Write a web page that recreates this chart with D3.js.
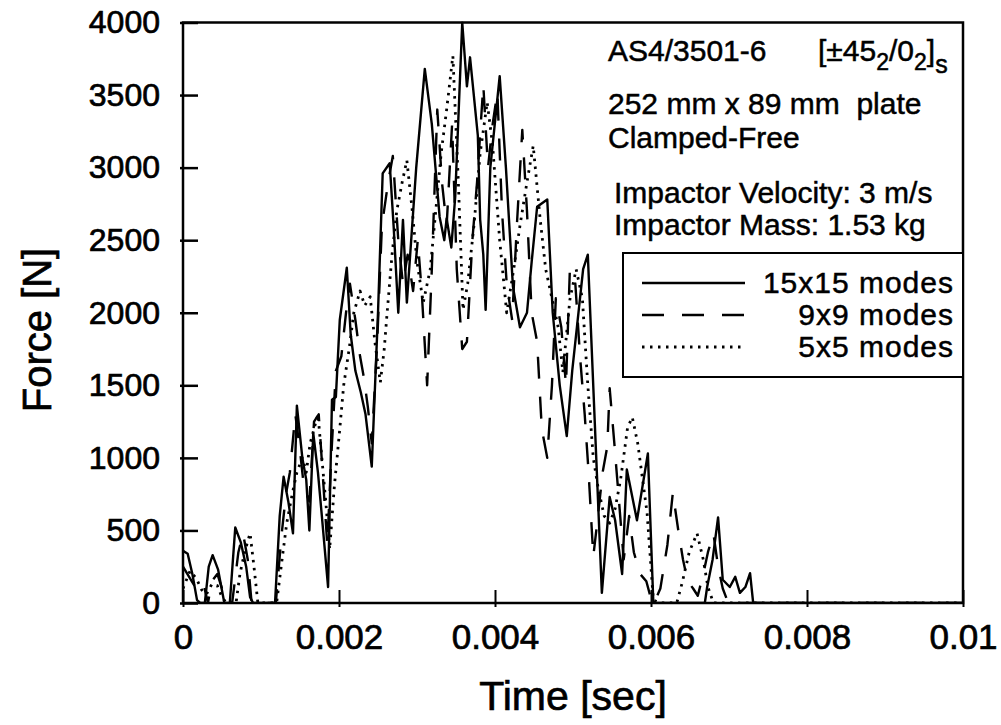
<!DOCTYPE html>
<html>
<head>
<meta charset="utf-8">
<script src="https://cdn.jsdelivr.net/npm/d3@7"></script>
<style>
  html, body { margin: 0; padding: 0; background: #ffffff; }
  svg { display: block; }
  text { white-space: pre; }
</style>
</head>
<body>
<svg id="chart"></svg>
<script>
// Impact force histories (time in s, force in N)
const solid15 = [
  [0, 360], [0.00006, 340], [0.00012, 200], [0.00018, 20], [0.00022, 0], [0.00028, 0],
  [0.00033, 250], [0.00038, 330], [0.00045, 230], [0.00053, 0], [0.0006, 0],
  [0.00067, 520], [0.00074, 420], [0.00081, 250], [0.00086, 40], [0.0009, 0], [0.00118, 0],
  [0.00124, 600], [0.00129, 870], [0.00135, 700], [0.00141, 480], [0.00146, 1360],
  [0.00153, 1000], [0.00158, 850], [0.00162, 500], [0.00167, 1170], [0.00173, 900],
  [0.00178, 600], [0.00186, 110], [0.00191, 1400], [0.00196, 1420], [0.00201, 1950],
  [0.0021, 2310], [0.00215, 1850], [0.00221, 1600], [0.00228, 1450], [0.00234, 1300],
  [0.00242, 940], [0.0025, 2000], [0.00256, 2960], [0.00265, 3030], [0.0027, 2600],
  [0.00276, 2000], [0.00282, 2640], [0.00287, 2070], [0.00299, 3000], [0.0031, 3680],
  [0.00319, 3300], [0.00329, 2660], [0.00335, 2500], [0.00338, 2650], [0.00344, 2450],
  [0.00349, 2800], [0.00358, 4000], [0.00364, 3560], [0.00368, 3760], [0.00378, 3220],
  [0.00381, 2640], [0.00385, 2400], [0.00388, 2020], [0.00394, 3000], [0.00406, 3630],
  [0.00414, 3000], [0.00423, 2180], [0.00432, 1900], [0.00441, 2000], [0.00447, 2350],
  [0.00454, 2730], [0.00467, 2780], [0.00474, 2000], [0.00483, 1500], [0.00492, 1150],
  [0.00499, 1600], [0.00505, 1900], [0.00513, 2300], [0.00519, 2400], [0.00537, 70],
  [0.00547, 730], [0.00554, 570], [0.00563, 200], [0.00569, 920], [0.00582, 570],
  [0.00596, 1030], [0.00603, 0], [0.00669, 0], [0.00672, 110], [0.00679, 300],
  [0.00686, 590], [0.00692, 160], [0.00701, 110], [0.00708, 180], [0.00714, 70],
  [0.00721, 110], [0.00727, 205], [0.00731, 0], [0.01, 0]
];

const dashed9 = [
  [0, 250], [0.00009, 170], [0.00017, 100], [0.00026, 140], [0.00032, 0], [0.00037, 150],
  [0.00044, 200], [0.0005, 100], [0.00055, 0], [0.00063, 0], [0.00071, 350], [0.00077, 480],
  [0.00083, 300], [0.00088, 0], [0.00119, 0], [0.00126, 450], [0.00132, 750], [0.00137, 900],
  [0.00144, 1300], [0.0015, 1050], [0.00155, 800], [0.00162, 700], [0.00168, 1250],
  [0.00174, 1300], [0.00179, 900], [0.00185, 400], [0.0019, 1000], [0.00196, 1600],
  [0.00203, 1700], [0.00209, 2000], [0.00214, 2200], [0.00221, 1950], [0.00227, 1700],
  [0.00232, 1550], [0.00237, 1350], [0.00242, 1100], [0.00249, 1800], [0.00255, 2600],
  [0.00263, 2900], [0.00269, 3080], [0.00276, 2500], [0.00282, 2200], [0.00288, 2400],
  [0.00295, 2150], [0.00301, 2500], [0.00306, 2150], [0.00313, 1500], [0.00319, 2300],
  [0.00326, 3400], [0.00332, 2900], [0.00338, 2600], [0.00345, 3300], [0.00351, 2300],
  [0.00358, 1750], [0.00364, 1800], [0.00371, 2500], [0.00377, 2900], [0.00385, 3570],
  [0.00391, 3000], [0.00397, 3300], [0.00403, 3520], [0.00409, 2700], [0.00415, 2200],
  [0.00422, 1950], [0.00428, 2600], [0.00435, 3260], [0.00441, 2700], [0.00447, 2000],
  [0.00454, 1800], [0.0046, 1200], [0.00467, 1000], [0.00473, 1500], [0.00478, 2100],
  [0.00485, 1900], [0.00491, 1500], [0.00496, 2300], [0.00503, 2200], [0.00509, 1700],
  [0.00515, 1300], [0.0052, 900], [0.00526, 320], [0.00532, 600], [0.00538, 900],
  [0.00544, 1080], [0.00547, 1480], [0.00553, 1100], [0.00559, 700], [0.00565, 300],
  [0.00572, 600], [0.00578, 350], [0.00586, 200], [0.00594, 150], [0.00599, 50],
  [0.00604, 0], [0.00612, 100], [0.00621, 400], [0.00628, 760], [0.00635, 500],
  [0.00641, 300], [0.00647, 150], [0.00654, 100], [0.0066, 50], [0.00667, 200],
  [0.00673, 350], [0.0068, 480], [0.00686, 250], [0.00692, 100], [0.00699, 0], [0.01, 0]
];

const dotted5 = [
  [0, 100], [0.00009, 220], [0.00017, 170], [0.00024, 90], [0.0003, 60], [0.00037, 130],
  [0.00044, 120], [0.0005, 40], [0.00056, 0], [0.00068, 0], [0.00073, 200], [0.00079, 350],
  [0.00086, 480], [0.00091, 250], [0.00096, 0], [0.0012, 0], [0.00127, 300], [0.00133, 550],
  [0.0014, 750], [0.00146, 900], [0.00153, 1000], [0.00158, 900], [0.00163, 1100],
  [0.00168, 1200], [0.00173, 1300], [0.00178, 1000], [0.00183, 700], [0.00188, 370],
  [0.00194, 800], [0.00201, 1200], [0.00206, 1500], [0.00213, 1750], [0.00219, 2000],
  [0.00227, 2150], [0.00233, 2050], [0.0024, 2110], [0.00246, 1800], [0.00253, 1520],
  [0.00258, 1750], [0.00262, 2020], [0.00268, 2400], [0.00274, 2700], [0.00281, 2900],
  [0.00287, 3050], [0.00294, 2700], [0.003, 2350], [0.00308, 2070], [0.00317, 2300],
  [0.00324, 2700], [0.00331, 3100], [0.00338, 3400], [0.00346, 3770], [0.00353, 2900],
  [0.00359, 2020], [0.00365, 2200], [0.00373, 2600], [0.00381, 3100], [0.0039, 3450],
  [0.00397, 3150], [0.00406, 2500], [0.00415, 2000], [0.00424, 2300], [0.00432, 2600],
  [0.00441, 2900], [0.00449, 3150], [0.00458, 2640], [0.00465, 2300], [0.00473, 2100],
  [0.00481, 1900], [0.00487, 1590], [0.00496, 2090], [0.00504, 2300], [0.00512, 2100],
  [0.00519, 1500], [0.00526, 1000], [0.00532, 800], [0.0054, 600], [0.00547, 550],
  [0.00554, 650], [0.00561, 850], [0.0057, 1210], [0.00576, 1280], [0.00583, 1100],
  [0.00588, 900], [0.00595, 620], [0.00603, 20], [0.00612, 0], [0.00633, 0], [0.0064, 140],
  [0.00649, 350], [0.00659, 480], [0.00667, 300], [0.00673, 110], [0.0068, 0], [0.01, 0]
];

const xTickValues = [0, 0.002, 0.004, 0.006, 0.008, 0.01];
const xTickLabels = ['0', '0.002', '0.004', '0.006', '0.008', '0.01'];
const yTickValues = [0, 500, 1000, 1500, 2000, 2500, 3000, 3500, 4000];

const seriesNames = ['15x15 modes', '9x9 modes', '5x5 modes'];
const seriesDash = [null, '22,18', '2.5,5.5'];
const seriesWidth = [2.4, 2.4, 2.8];

const WIDTH = 1001;
const HEIGHT = 725;
const LEFT = 183;
const RIGHT = 963;
const TOP = 22.5;
const BOTTOM = 603;
const FONT = '"Liberation Sans", Arial, Helvetica, sans-serif';
const INK = 0.7; // scanned print looks a bit heavier than plain Arial

const svg = d3.select('#chart')
  .attr('width', WIDTH)
  .attr('height', HEIGHT)
  .attr('viewBox', `0 0 ${WIDTH} ${HEIGHT}`);

svg.append('rect')
  .attr('width', WIDTH)
  .attr('height', HEIGHT)
  .attr('fill', '#ffffff');

const x = d3.scaleLinear().domain([0, 0.01]).range([LEFT, RIGHT]);
const y = d3.scaleLinear().domain([0, 4000]).range([BOTTOM, TOP]);

svg.append('clipPath')
  .attr('id', 'plot-clip')
  .append('rect')
  .attr('x', LEFT)
  .attr('y', TOP - 1)
  .attr('width', RIGHT - LEFT)
  .attr('height', BOTTOM - TOP + 1);

// curves
const line = d3.line()
  .x((d) => x(d[0]))
  .y((d) => y(d[1]));

const plot = svg.append('g').attr('clip-path', 'url(#plot-clip)');

[solid15, dashed9, dotted5].forEach((series, i) => {
  plot.append('path')
    .datum(series)
    .attr('d', line)
    .attr('fill', 'none')
    .attr('stroke', '#000000')
    .attr('stroke-width', seriesWidth[i])
    .attr('stroke-linejoin', 'round')
    .attr('stroke-dasharray', seriesDash[i]);
});

// axes
const xAxis = svg.append('g')
  .attr('transform', `translate(0, ${BOTTOM})`)
  .call(d3.axisBottom(x)
    .tickValues(xTickValues)
    .tickFormat((d, i) => xTickLabels[i])
    .tickSizeOuter(0)
    .tickPadding(15));

xAxis.select('.domain').remove();
xAxis.selectAll('.tick line')
  .attr('y1', 4)
  .attr('y2', -13)
  .attr('stroke', '#000000')
  .attr('stroke-width', 2);
xAxis.selectAll('.tick text')
  .attr('font-family', FONT)
  .attr('font-size', 35)
  .attr('fill', '#000000')
  .attr('stroke', '#000000')
  .attr('stroke-width', INK);

const yAxis = svg.append('g')
  .attr('transform', `translate(${LEFT}, 0)`)
  .call(d3.axisLeft(y)
    .tickValues(yTickValues)
    .tickFormat(d3.format('d'))
    .tickSizeOuter(0)
    .tickPadding(17));

yAxis.select('.domain').remove();
yAxis.selectAll('.tick line')
  .attr('x1', -3)
  .attr('x2', 15)
  .attr('stroke', '#000000')
  .attr('stroke-width', 2.5);
yAxis.selectAll('.tick text')
  .attr('font-family', FONT)
  .attr('font-size', 32)
  .attr('fill', '#000000')
  .attr('stroke', '#000000')
  .attr('stroke-width', INK);

// frame
svg.append('rect')
  .attr('x', LEFT)
  .attr('y', TOP)
  .attr('width', RIGHT - LEFT)
  .attr('height', BOTTOM - TOP)
  .attr('fill', 'none')
  .attr('stroke', '#000000')
  .attr('stroke-width', 2.5);

// axis titles
svg.append('text')
  .attr('x', (LEFT + RIGHT) / 2)
  .attr('y', 710)
  .attr('text-anchor', 'middle')
  .attr('font-family', FONT)
  .attr('font-size', 41)
  .attr('stroke', '#000000')
  .attr('stroke-width', INK)
  .text('Time [sec]');

svg.append('text')
  .attr('transform', 'translate(51, 330) rotate(-90)')
  .attr('text-anchor', 'middle')
  .attr('font-family', FONT)
  .attr('font-size', 40)
  .attr('stroke', '#000000')
  .attr('stroke-width', INK)
  .text('Force [N]');

// annotation block
const note = svg.append('g')
  .attr('font-family', FONT)
  .attr('font-size', 30)
  .attr('fill', '#000000')
  .attr('stroke', '#000000')
  .attr('stroke-width', 0.5);

const first = note.append('text').attr('x', 608).attr('y', 61);
first.append('tspan').text('AS4/3501-6');
first.append('tspan').attr('x', 818).text('[\u00b145');
first.append('tspan').attr('dy', 9).attr('font-size', 23).text('2');
first.append('tspan').attr('dy', -9).text('/0');
first.append('tspan').attr('dy', 9).attr('font-size', 23).text('2');
first.append('tspan').attr('dy', -9).text(']');
first.append('tspan').attr('dy', 12).attr('font-size', 25).text('s');

note.append('text').attr('x', 608).attr('y', 114).text('252 mm x 89 mm  plate');
note.append('text').attr('x', 608).attr('y', 148).text('Clamped-Free');
note.append('text').attr('x', 614).attr('y', 203).text('Impactor Velocity: 3 m/s');
note.append('text').attr('x', 614).attr('y', 235).text('Impactor Mass: 1.53 kg');

// legend
const legend = svg.append('g');

legend.append('rect')
  .attr('x', 623)
  .attr('y', 253)
  .attr('width', RIGHT - 623)
  .attr('height', 124)
  .attr('fill', '#ffffff')
  .attr('stroke', '#000000')
  .attr('stroke-width', 2);

seriesNames.forEach((name, i) => {
  const ly = 283 + i * 32;
  legend.append('line')
    .attr('x1', 642)
    .attr('x2', 745)
    .attr('y1', ly)
    .attr('y2', ly)
    .attr('stroke', '#000000')
    .attr('stroke-width', seriesWidth[i])
    .attr('stroke-dasharray', seriesDash[i]);

  legend.append('text')
    .attr('x', 954)
    .attr('y', ly + 10)
    .attr('text-anchor', 'end')
    .attr('font-family', FONT)
    .attr('font-size', 30)
    .attr('letter-spacing', 1)
    .attr('stroke', '#000000')
    .attr('stroke-width', 0.5)
    .text(name);
});
</script>
</body>
</html>
